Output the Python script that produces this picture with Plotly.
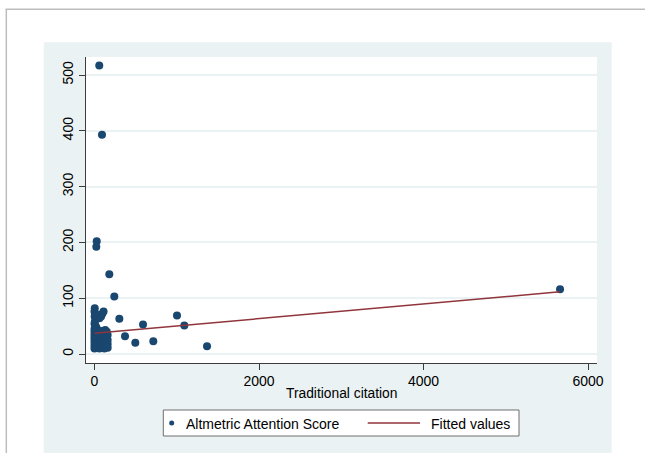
import plotly.graph_objects as go

# ---------------- data ----------------
cite_x = [3, 0, 8, 2, 15, 4, 0, 12, 25, 30,
          110, 95, 80, 60, 45,
          0, 0, 0, 0, 0, 0, 0, 0,
          20, 20, 20, 20, 20, 20, 20,
          40, 40, 40, 40, 40, 40,
          60, 60, 60, 60, 60, 60,
          80, 80, 80, 80, 80, 80,
          100, 100, 100, 100, 100,
          120, 120, 120, 120, 120,
          140, 140, 140, 140,
          160, 160, 160, 160,
          150, 130,
          58, 91, 27, 22, 180, 241, 302, 371, 496, 590, 715, 1003, 1092, 1368, 5660]
score_y = [82, 76, 71, 67, 63, 58, 54, 50, 47, 42,
           76, 72, 67, 64, 70,
           45, 40, 35, 30, 25, 20, 15, 10,
           44, 38, 32, 27, 21, 16, 11,
           42, 36, 30, 24, 18, 12,
           40, 34, 28, 22, 16, 10,
           41, 35, 29, 23, 17, 11,
           40, 33, 26, 19, 12,
           39, 31, 24, 17, 10,
           37, 29, 22, 14,
           34, 25, 18, 11,
           40, 43,
           517, 393, 202, 192, 143, 103, 63, 32, 20, 53, 23, 69, 51, 14, 116]
fit_x = [0, 5660]
fit_y = [37.0, 111.6]
x_ticks = [0, 2000, 4000, 6000]
y_ticks = [0, 100, 200, 300, 400, 500]
series_names = ["Altmetric Attention Score", "Fitted values"]
x_title = "Traditional citation"

# ---------------- style ----------------
NAVY = "#1A476F"
MAROON = "#90353B"
REGION = "#EAF2F3"
FONT = "Liberation Sans, Arial, sans-serif"

L, R, T, B = 86, 597, 57, 363
W, H = R - L, B - T


def fx(p):
    return (p - L) / W


def fy(p):
    return (B - p) / H


fig = go.Figure()
fig.add_trace(go.Scatter(x=cite_x, y=score_y, mode="markers", name=series_names[0],
                         marker=dict(color=NAVY, size=8, line=dict(width=0)),
                         showlegend=False, cliponaxis=False))
fig.add_trace(go.Scatter(x=fit_x, y=fit_y, mode="lines", name=series_names[1],
                         line=dict(color=MAROON, width=1.5), showlegend=False))

shapes = [
    # graph region
    dict(type="rect", xref="paper", yref="paper", x0=fx(43.7), x1=fx(611.7), y0=fy(470), y1=fy(42.3),
         fillcolor=REGION, line=dict(width=0), layer="below"),
    # plot region
    dict(type="rect", xref="paper", yref="paper", x0=0, x1=1, y0=0, y1=1,
         fillcolor="white", line=dict(width=0), layer="below"),
    # outer frame lines
    dict(type="line", xref="paper", yref="paper", x0=fx(5.5), x1=fx(660), y0=fy(9.3), y1=fy(9.3),
         line=dict(color="#BDBDBD", width=1.5)),
    dict(type="line", xref="paper", yref="paper", x0=fx(6.3), x1=fx(6.3), y0=fy(9.3), y1=fy(470),
         line=dict(color="#BDBDBD", width=1.5)),
    # legend box
    dict(type="rect", xref="paper", yref="paper", x0=fx(163.3), x1=fx(519), y0=fy(436), y1=fy(410),
         fillcolor="white", line=dict(color="#6E6E6E", width=1)),
    dict(type="circle", xref="paper", yref="paper", x0=fx(169.2), x1=fx(174.2), y0=fy(425.5), y1=fy(420.5),
         fillcolor=NAVY, line=dict(width=0)),
    dict(type="line", xref="paper", yref="paper", x0=fx(367.7), x1=fx(420), y0=fy(423), y1=fy(423),
         line=dict(color=MAROON, width=1.5)),
]

annotations = [
    dict(text=series_names[0], xref="paper", yref="paper", x=fx(184), y=fy(423.5),
         xanchor="left", yanchor="middle", showarrow=False, font=dict(size=14, color="black", family=FONT)),
    dict(text=series_names[1], xref="paper", yref="paper", x=fx(429), y=fy(423.5),
         xanchor="left", yanchor="middle", showarrow=False, font=dict(size=14, color="black", family=FONT)),
    dict(text=x_title, xref="paper", yref="paper", x=fx(341.5), y=fy(393),
         xanchor="center", yanchor="middle", showarrow=False, font=dict(size=13.8, color="black", family=FONT)),
]

x_lo = (L - 94.5) * 2000 / 164.5
x_hi = (R - 94.5) * 2000 / 164.5
y_per_px = 100 / 55.8
y_lo = (354 - B) * y_per_px
y_hi = (354 - T) * y_per_px

fig.update_layout(
    width=645, height=453,
    margin=dict(l=L, r=645 - R, t=T, b=453 - B, pad=0),
    paper_bgcolor="white",
    plot_bgcolor="rgba(0,0,0,0)",
    font=dict(family=FONT, size=14, color="black"),
    showlegend=False,
    shapes=shapes,
    annotations=annotations,
    xaxis=dict(range=[x_lo, x_hi], tickvals=x_ticks, ticktext=[str(v) for v in x_ticks],
               showgrid=False, zeroline=False, showline=True, linecolor="#3C3C3C", linewidth=1,
               ticks="outside", ticklen=6, tickcolor="#3C3C3C", tickwidth=1,
               ticklabelstandoff=-1,
               tickfont=dict(size=14, color="black")),
    yaxis=dict(range=[y_lo, y_hi], tickvals=y_ticks, ticktext=[str(v) for v in y_ticks],
               showgrid=True, gridcolor=REGION, gridwidth=1.5, zeroline=False,
               showline=True, linecolor="#3C3C3C", linewidth=1,
               ticks="outside", ticklen=6, tickcolor="#3C3C3C", tickwidth=1,
               tickangle=-90, tickfont=dict(size=14, color="black")),
)

fig.write_html("out.html", config=dict(displayModeBar=False),
               post_script="document.body.style.margin='0';document.body.style.overflow='hidden';")
